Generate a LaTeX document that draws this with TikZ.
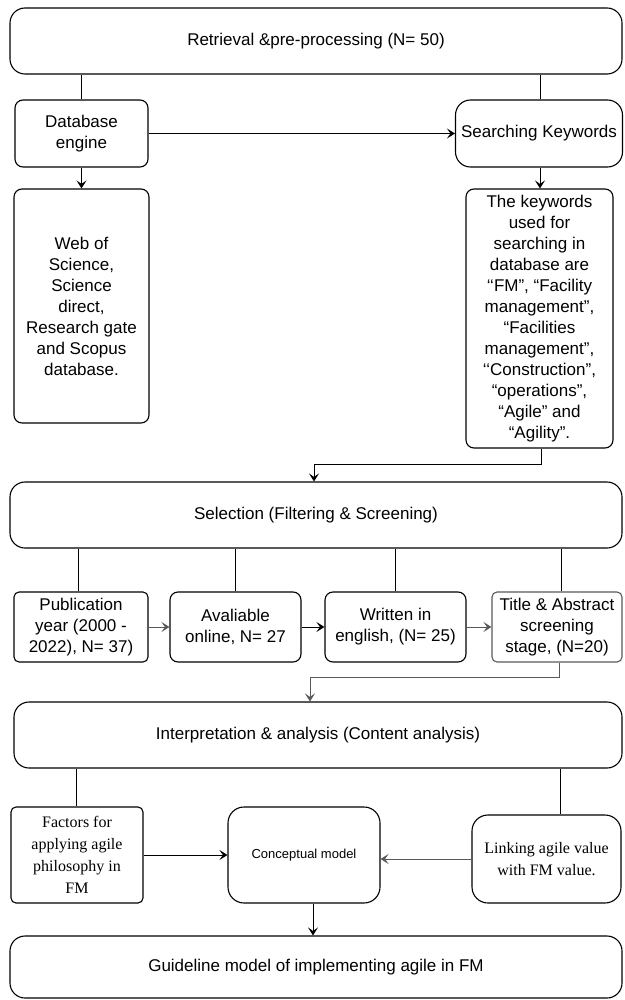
\documentclass[tikz,border=0pt]{standalone}
\usepackage{fontspec}
\setmainfont{Liberation Sans}
\newfontfamily\seriffont{Liberation Serif}
\usetikzlibrary{arrows.meta}
\definecolor{softline}{rgb}{0.35,0.35,0.35}
\begin{document}
\begin{tikzpicture}[x=1pt,y=-1pt,
  box/.style={draw, line width=1.1pt, inner sep=0pt, align=center,
    font=\fontsize{17}{21}\selectfont},
  bigr/.style={rounded corners=15pt},
  midr/.style={rounded corners=8pt},
  smallr/.style={rounded corners=5pt},
  serifbox/.style={font=\seriffont\fontsize{16}{22}\selectfont},
  link/.style={line width=1pt},
  arr/.style={line width=1pt, -{Stealth[length=8pt,width=10pt,inset=3.5pt]}},
  soft/.style={draw=softline}
]
\useasboundingbox (0,0) rectangle (624,1000);

% stage 1: retrieval and pre-processing
\node[box,bigr,minimum width=612pt,minimum height=66pt] (top) at (316,41)
  {Retrieval \&pre-processing (N= 50)};
\node[box,midr,minimum width=133pt,minimum height=67pt] (db) at (81.5,133.5)
  {Database\\engine};
\node[box,bigr,minimum width=167pt,minimum height=67pt] (sk) at (539,133.5)
  {Searching Keywords};
\node[box,midr,minimum width=135pt,minimum height=234pt] (wos) at (81.5,306)
  {Web of\\Science,\\Science\\direct,\\Research gate\\and Scopus\\database.};
\node[box,midr,minimum width=147pt,minimum height=259pt] (kw) at (539.5,318.5)
  {The keywords\\used for\\searching in\\database are\\‘‘FM”, “Facility\\management”,\\“Facilities\\management”,\\‘‘Construction”,\\“operations”,\\“Agile” and\\“Agility”.};

% stage 2: selection
\node[box,bigr,minimum width=612pt,minimum height=66pt] (sel) at (316,515)
  {Selection (Filtering \& Screening)};
\node[box,smallr,minimum width=134pt,minimum height=70pt] (pub) at (81,627)
  {Publication\\year (2000 -\\2022), N= 37)};
\node[box,midr,minimum width=131pt,minimum height=70pt] (ava) at (235.5,627)
  {Avaliable\\online, N= 27};
\node[box,midr,minimum width=141pt,minimum height=70pt] (wri) at (395.5,627)
  {Written in\\english, (N= 25)};
\node[box,smallr,soft,minimum width=130pt,minimum height=70pt] (tit) at (557,627)
  {Title \& Abstract\\screening\\stage, (N=20)};

% stage 3: interpretation and analysis
\node[box,bigr,minimum width=608pt,minimum height=66pt] (int) at (318,735)
  {Interpretation \& analysis (Content analysis)};
\node[box,smallr,serifbox,minimum width=132pt,minimum height=96pt] (fac) at (77,855)
  {Factors for\\applying agile\\philosophy in\\FM};
\node[box,rounded corners=16pt,minimum width=152pt,minimum height=96pt,
  font=\fontsize{13}{16}\selectfont] (con) at (304,855) {Conceptual model};
\node[box,rounded corners=16pt,serifbox,minimum width=149pt,minimum height=88pt] (lnk) at (546.5,859)
  {Linking agile value\\with FM value.};
\node[box,bigr,minimum width=612pt,minimum height=62pt] (gui) at (316,967)
  {Guideline model of implementing agile in FM};

% connectors of stage 1
\draw[link] (db.north) -- (db.north |- top.south);
\draw[link] ([xshift=1pt]sk.north) -- ([xshift=1pt]sk.north |- top.south);
\draw[arr] (db.east) -- (sk.west);
\draw[arr] (db.south) -- (wos.north);
\draw[arr] ([xshift=1pt]sk.south) -- ([xshift=1pt]sk.south |- kw.north);
\coordinate (kwturn) at ([xshift=1.5pt,yshift=-16pt]kw.south);
\coordinate (selin) at ([xshift=-2pt]sel.north);
\draw[arr] ([xshift=1.5pt]kw.south) -- (kwturn) -| (selin);

% connectors of stage 2
\foreach \b/\dx in {pub/-3, ava/0, wri/0, tit/4}
  \draw[link] ([xshift=\dx pt]\b.north) -- ([xshift=\dx pt]\b.north |- sel.south);
\draw[arr,softline] (pub.east) -- (ava.west);
\draw[arr] (ava.east) -- (wri.west);
\draw[arr,softline] (wri.east) -- (tit.west);
\coordinate (titturn) at ([xshift=2pt,yshift=-15pt]tit.south);
\coordinate (intin) at ([xshift=-8pt]int.north);
\draw[arr,softline] ([xshift=2pt]tit.south) -- (titturn) -| (intin);

% connectors of stage 3
\draw[link] ([xshift=-1pt]fac.north) -- ([xshift=-1pt]fac.north |- int.south);
\draw[link] ([xshift=13.5pt]lnk.north) -- ([xshift=13.5pt]lnk.north |- int.south);
\draw[arr] (fac.east) -- (fac.east -| con.west);
\draw[arr,softline] (lnk.west) -- (lnk.west -| con.east);
\draw[arr] ([xshift=9pt]con.south) -- ([xshift=9pt]con.south |- gui.north);
\end{tikzpicture}
\end{document}
